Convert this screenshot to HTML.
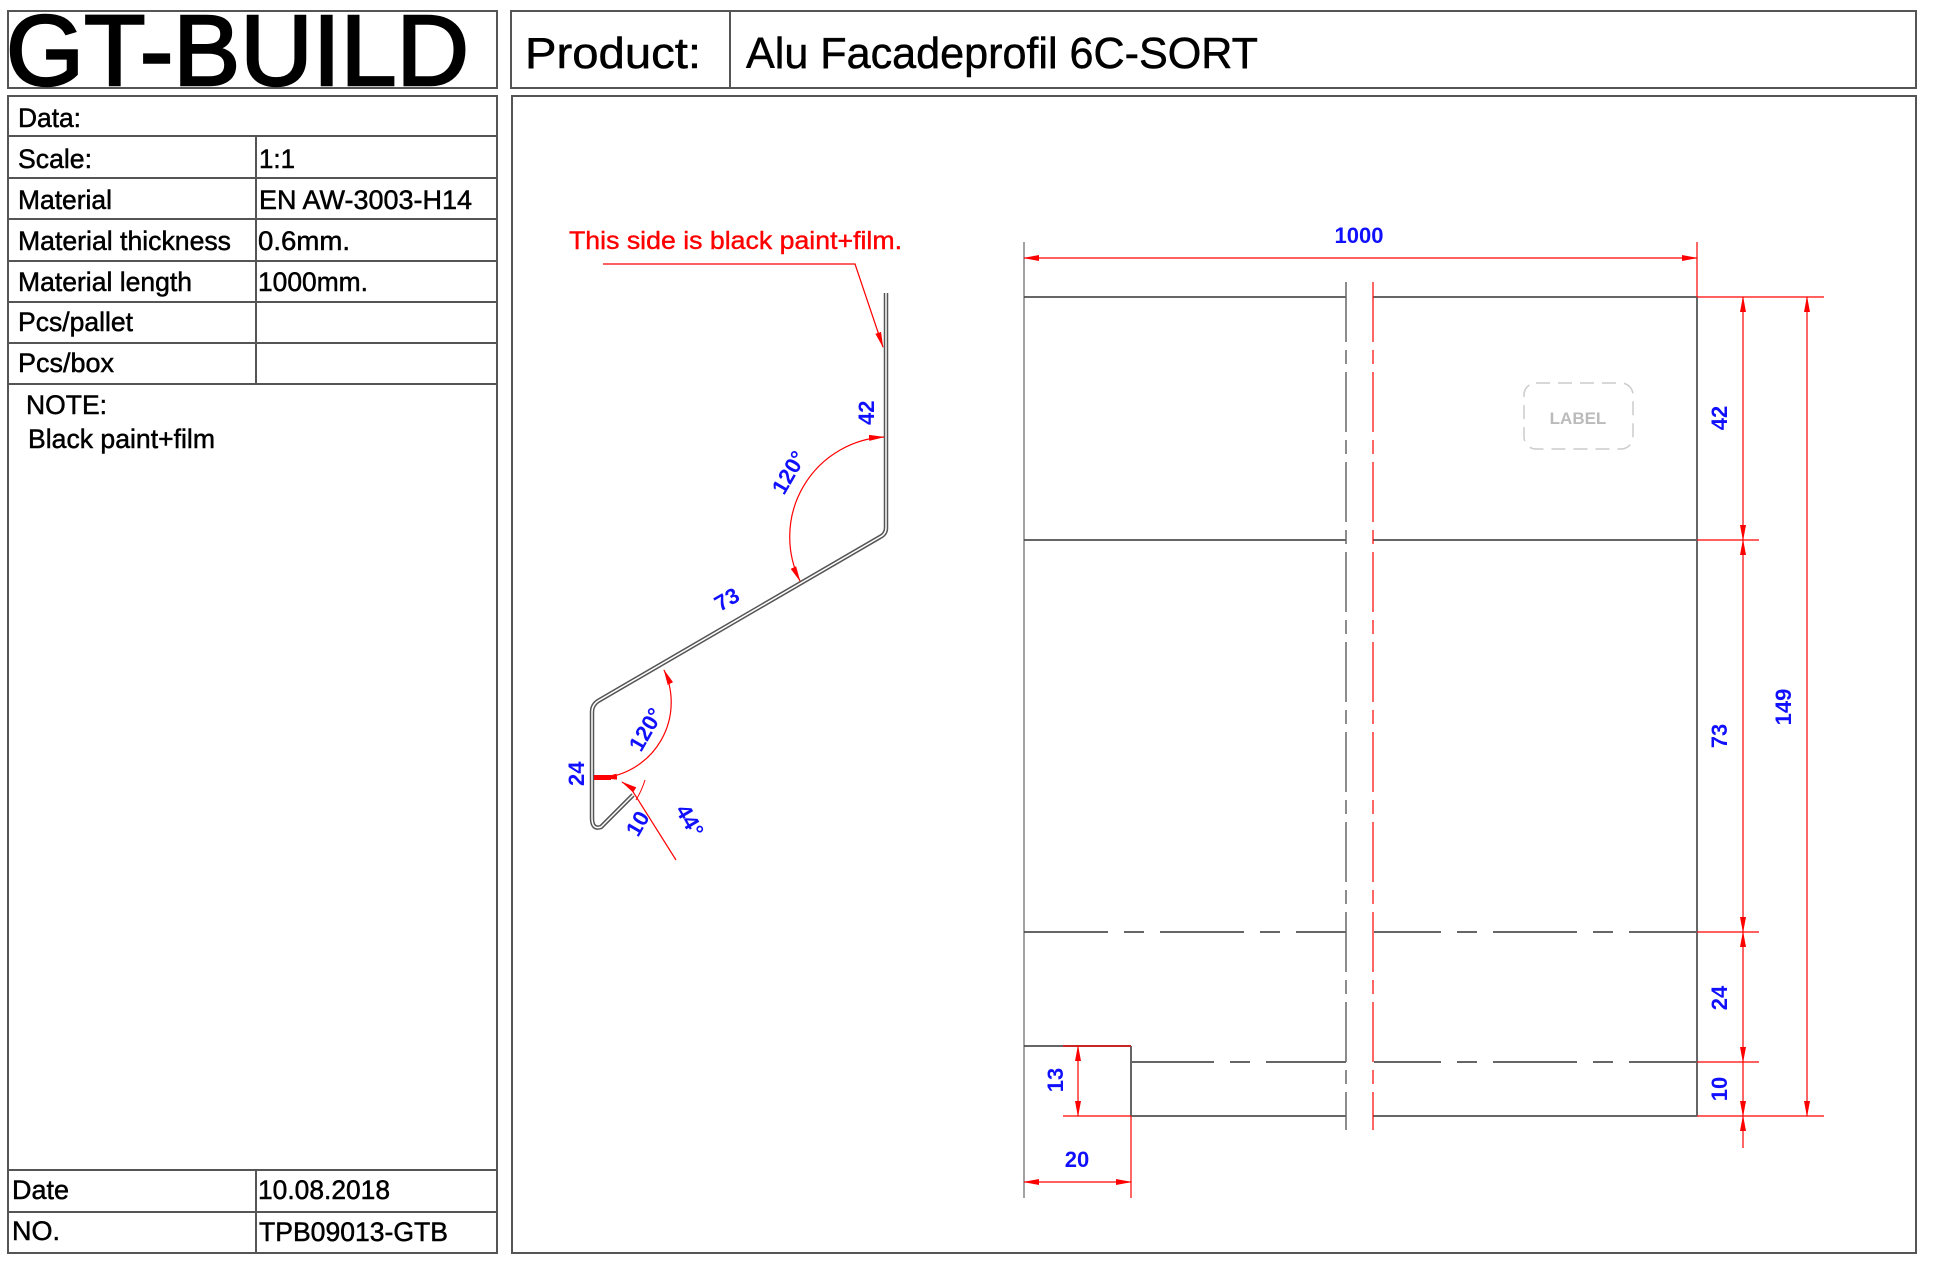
<!DOCTYPE html>
<html><head><meta charset="utf-8"><style>
html,body{margin:0;padding:0;background:#fff;}
svg{display:block;font-family:"Liberation Sans",Arial,sans-serif;}
.d{fill:#1010ff;font-weight:bold;font-size:22px;}
.t{stroke:#000;stroke-width:0.5;}
</style></head><body>
<svg width="1934" height="1264" viewBox="0 0 1934 1264" xmlns="http://www.w3.org/2000/svg">
<defs>
<marker id="a" markerWidth="16" markerHeight="8" refX="15" refY="4" orient="auto" markerUnits="userSpaceOnUse"><path d="M0,1 L16,4 L0,7 Z" fill="#f00"/></marker>
<marker id="as" markerWidth="16" markerHeight="8" refX="1" refY="4" orient="auto" markerUnits="userSpaceOnUse"><path d="M16,1 L0,4 L16,7 Z" fill="#f00"/></marker>
</defs>
<g fill="none" stroke="#555" stroke-width="2">
<rect x="8" y="11" width="489" height="77"/>
<rect x="511" y="11" width="1405" height="77"/>
<line x1="730" y1="11" x2="730" y2="88"/>
<rect x="8" y="96" width="489" height="1157"/>
<rect x="512" y="96" width="1404" height="1157"/>
<line x1="8" y1="136" x2="497" y2="136"/>
<line x1="8" y1="178" x2="497" y2="178"/>
<line x1="8" y1="219" x2="497" y2="219"/>
<line x1="8" y1="261" x2="497" y2="261"/>
<line x1="8" y1="302" x2="497" y2="302"/>
<line x1="8" y1="343" x2="497" y2="343"/>
<line x1="8" y1="384" x2="497" y2="384"/>
<line x1="256" y1="136" x2="256" y2="384"/>
<line x1="8" y1="1170" x2="497" y2="1170"/>
<line x1="8" y1="1212" x2="497" y2="1212"/>
<line x1="256" y1="1170" x2="256" y2="1253"/>
</g>
<text x="6" y="85" font-size="100" stroke="#000" stroke-width="2.5" textLength="463" lengthAdjust="spacingAndGlyphs">GT-BUILD</text>
<text class="t" x="525" y="68" font-size="44" textLength="176" lengthAdjust="spacingAndGlyphs">Product:</text>
<text class="t" x="746" y="68" font-size="44" textLength="512" lengthAdjust="spacingAndGlyphs">Alu Facadeprofil 6C-SORT</text>
<g font-size="27" class="t">
<text x="18" y="127" textLength="63" lengthAdjust="spacingAndGlyphs">Data:</text>
<text x="18" y="168" textLength="74" lengthAdjust="spacingAndGlyphs">Scale:</text>
<text x="18" y="209" textLength="94" lengthAdjust="spacingAndGlyphs">Material</text>
<text x="18" y="250" textLength="213" lengthAdjust="spacingAndGlyphs">Material thickness</text>
<text x="18" y="291" textLength="174" lengthAdjust="spacingAndGlyphs">Material length</text>
<text x="18" y="331" textLength="115" lengthAdjust="spacingAndGlyphs">Pcs/pallet</text>
<text x="18" y="372" textLength="96" lengthAdjust="spacingAndGlyphs">Pcs/box</text>
<text x="259" y="168" textLength="36" lengthAdjust="spacingAndGlyphs">1:1</text>
<text x="259" y="209" textLength="213" lengthAdjust="spacingAndGlyphs">EN AW-3003-H14</text>
<text x="258" y="250" textLength="92" lengthAdjust="spacingAndGlyphs">0.6mm.</text>
<text x="258" y="291" textLength="110" lengthAdjust="spacingAndGlyphs">1000mm.</text>
<text x="26" y="414" textLength="81" lengthAdjust="spacingAndGlyphs">NOTE:</text>
<text x="28" y="448" textLength="187" lengthAdjust="spacingAndGlyphs">Black paint+film</text>
<text x="12" y="1199" textLength="57" lengthAdjust="spacingAndGlyphs">Date</text>
<text x="258" y="1199" textLength="132" lengthAdjust="spacingAndGlyphs">10.08.2018</text>
<text x="12" y="1240" textLength="48" lengthAdjust="spacingAndGlyphs">NO.</text>
<text x="259" y="1241" textLength="189" lengthAdjust="spacingAndGlyphs">TPB09013-GTB</text>
</g>

<path d="M886,293 L886,528 Q886,534 880,537 L598,701 Q592,705 592,712 L592,818 Q592,830 601,827 L633,795" fill="none" stroke="#555" stroke-width="4.5"/>
<path d="M886,293 L886,528 Q886,534 880,537 L598,701 Q592,705 592,712 L592,818 Q592,830 601,827 L633,795" fill="none" stroke="#fff" stroke-width="1.5"/>
<text x="569" y="249" font-size="25" fill="#f00" stroke="#f00" stroke-width="0.4" textLength="333" lengthAdjust="spacingAndGlyphs">This side is black paint+film.</text>
<polyline points="603,264 855,264 883,347" fill="none" stroke="#f00" stroke-width="1.2" marker-end="url(#a)"/>
<path d="M884,437 A100,100 0 0 0 800,581" fill="none" stroke="#f00" stroke-width="1.2" marker-start="url(#as)" marker-end="url(#a)"/>
<path d="M664,670 A76,76 0 0 1 602,778" fill="none" stroke="#f00" stroke-width="1.2" marker-start="url(#as)" marker-end="url(#a)"/>
<rect x="594" y="775" width="17" height="5" fill="#f00"/>
<line x1="676" y1="860" x2="630" y2="787" stroke="#f00" stroke-width="1.2"/>
<line x1="630" y1="787" x2="622" y2="782" stroke="#f00" stroke-width="1.2" marker-end="url(#a)"/>
<path d="M636,800 Q642,790 645,780" fill="none" stroke="#f00" stroke-width="1"/>
<text class="d" transform="translate(874,425) rotate(-90)">42</text>
<text class="d" transform="translate(784,496) rotate(-60)">120°</text>
<text class="d" transform="translate(720,612) rotate(-30)">73</text>
<text class="d" transform="translate(641,753) rotate(-60)">120°</text>
<text class="d" transform="translate(584,786) rotate(-90)">24</text>
<text class="d" transform="translate(638,838) rotate(-60)">10</text>
<text class="d" transform="translate(675,810) rotate(60)">44°</text>

<g stroke="#666" stroke-width="2" fill="none">
<line x1="1024" y1="297" x2="1346" y2="297"/>
<line x1="1373" y1="297" x2="1697" y2="297"/>
<line x1="1024" y1="540" x2="1346" y2="540"/>
<line x1="1373" y1="540" x2="1697" y2="540"/>
<line x1="1697" y1="297" x2="1697" y2="1116"/>
<line x1="1024" y1="932" x2="1346" y2="932" stroke-dasharray="84,16,20,16"/>
<line x1="1697" y1="932" x2="1374" y2="932" stroke-dasharray="68,16,20,16,84,16,20,16"/>
<line x1="1131" y1="1062" x2="1346" y2="1062" stroke-dasharray="83,16,20,16"/>
<line x1="1697" y1="1062" x2="1374" y2="1062" stroke-dasharray="68,16,20,16,84,16,20,16"/>
<line x1="1131" y1="1116" x2="1346" y2="1116"/>
<line x1="1373" y1="1116" x2="1697" y2="1116"/>
<line x1="1024" y1="1046" x2="1131" y2="1046"/>
<line x1="1131" y1="1046" x2="1131" y2="1116"/>
<line x1="1346" y1="282" x2="1346" y2="1130" stroke-width="1.5" stroke-dasharray="60,8,14,8"/>
</g>
<line x1="1024" y1="242" x2="1024" y2="1198" stroke="#444" stroke-width="1"/>
<line x1="1373" y1="282" x2="1373" y2="1130" stroke="#f00" stroke-width="1.2" stroke-dasharray="60,8,14,8"/>
<g stroke="#f00" stroke-width="1.2" fill="none">
<line x1="1697" y1="242" x2="1697" y2="297"/>
<line x1="1024" y1="258" x2="1697" y2="258" marker-start="url(#as)" marker-end="url(#a)"/>
<line x1="1697" y1="297" x2="1824" y2="297"/>
<line x1="1697" y1="540" x2="1759" y2="540"/>
<line x1="1697" y1="932" x2="1759" y2="932"/>
<line x1="1697" y1="1062" x2="1759" y2="1062"/>
<line x1="1697" y1="1116" x2="1824" y2="1116"/>
<line x1="1743" y1="297" x2="1743" y2="540" marker-start="url(#as)" marker-end="url(#a)"/>
<line x1="1743" y1="540" x2="1743" y2="932" marker-start="url(#as)" marker-end="url(#a)"/>
<line x1="1743" y1="932" x2="1743" y2="1062" marker-start="url(#as)" marker-end="url(#a)"/>
<line x1="1743" y1="1062" x2="1743" y2="1116" marker-end="url(#a)"/>
<line x1="1743" y1="1148" x2="1743" y2="1116" marker-end="url(#a)"/>
<line x1="1807" y1="297" x2="1807" y2="1116" marker-start="url(#as)" marker-end="url(#a)"/>
<line x1="1063" y1="1046" x2="1131" y2="1046"/>
<line x1="1063" y1="1116" x2="1131" y2="1116"/>
<line x1="1131" y1="1116" x2="1131" y2="1198"/>
<line x1="1078" y1="1046" x2="1078" y2="1116" marker-start="url(#as)" marker-end="url(#a)"/>
<line x1="1024" y1="1182" x2="1131" y2="1182" marker-start="url(#as)" marker-end="url(#a)"/>
</g>
<text class="d" x="1359" y="243" text-anchor="middle">1000</text>
<text class="d" x="1077" y="1167" text-anchor="middle">20</text>
<text class="d" transform="translate(1063,1080) rotate(-90)" text-anchor="middle">13</text>
<text class="d" transform="translate(1727,418) rotate(-90)" text-anchor="middle">42</text>
<text class="d" transform="translate(1727,736) rotate(-90)" text-anchor="middle">73</text>
<text class="d" transform="translate(1727,998) rotate(-90)" text-anchor="middle">24</text>
<text class="d" transform="translate(1727,1089) rotate(-90)" text-anchor="middle">10</text>
<text class="d" transform="translate(1791,707) rotate(-90)" text-anchor="middle">149</text>
<rect x="1524" y="383" width="109" height="66" rx="12" fill="none" stroke="#ccc" stroke-width="1.5" stroke-dasharray="14,8"/>
<text x="1578" y="424" font-size="17" fill="#bbb" text-anchor="middle" font-weight="bold">LABEL</text>
</svg>
</body></html>
